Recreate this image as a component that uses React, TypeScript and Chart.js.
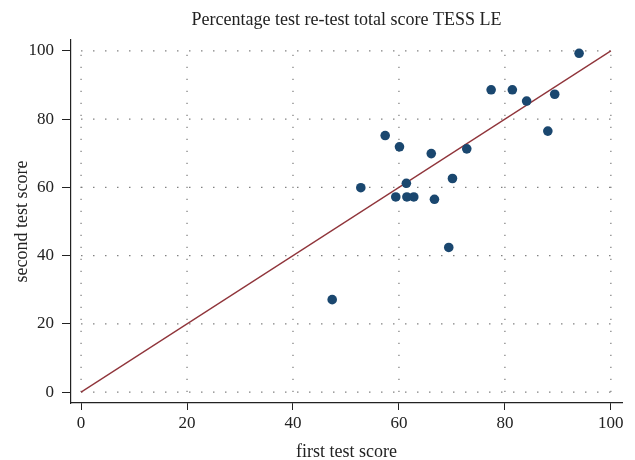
import React, { useEffect, useRef } from "react";
import { Chart, registerables } from "chart.js";

Chart.register(...registerables);

const chartTitle = "Percentage test re-test total score TESS LE";
const xAxisTitle = "first test score";
const yAxisTitle = "second test score";

const firstTest = [94.0, 77.4, 81.4, 84.1, 89.4, 88.1, 57.4, 60.1, 66.1, 72.8, 52.8, 61.4, 59.4, 61.5, 62.8, 70.1, 66.7, 69.4, 47.4];
const secondTest = [99.3, 88.6, 88.6, 85.3, 87.3, 76.5, 75.2, 71.9, 69.9, 71.3, 59.9, 61.2, 57.2, 57.2, 57.2, 62.6, 56.5, 42.4, 27.1];

const lineX = [0, 100];
const lineY = [0, 100];

const tickValues = [0, 20, 40, 60, 80, 100];

const FONT = "'Liberation Serif', 'Times New Roman', serif";
const INK = "#222222";

const dottedGrid = {
  id: "dottedGrid",
  beforeDatasetsDraw(chart: any) {
    const { ctx } = chart;
    const xs = chart.scales.x;
    const ys = chart.scales.y;
    const x0 = xs.getPixelForValue(tickValues[0]);
    const x1 = xs.getPixelForValue(tickValues[tickValues.length - 1]);
    const y0 = ys.getPixelForValue(tickValues[0]);
    const y1 = ys.getPixelForValue(tickValues[tickValues.length - 1]);
    ctx.save();
    ctx.strokeStyle = "#7a7a7a";
    ctx.lineWidth = 1.2;
    ctx.setLineDash([1.4, 10.6]);
    for (const v of tickValues) {
      const py = ys.getPixelForValue(v);
      ctx.beginPath();
      ctx.moveTo(x0, py);
      ctx.lineTo(x1, py);
      ctx.stroke();
      const px = xs.getPixelForValue(v);
      ctx.beginPath();
      ctx.moveTo(px, y0);
      ctx.lineTo(px, y1);
      ctx.stroke();
    }
    ctx.restore();
  },
};

export default function App() {
  const ref = useRef<HTMLCanvasElement | null>(null);

  useEffect(() => {
    if (!ref.current) return;
    const scatterData = firstTest.map((x, i) => ({ x, y: secondTest[i] }));
    const lineData = lineX.map((x, i) => ({ x, y: lineY[i] }));
    const setTicks = (scale: any) => {
      scale.ticks = tickValues.map((v) => ({ value: v }));
    };
    const chart = new Chart(ref.current, {
      type: "scatter",
      data: {
        datasets: [
          {
            type: "scatter",
            data: scatterData,
            backgroundColor: "#1a476f",
            borderColor: "#1a476f",
            pointRadius: 4.8,
            pointHoverRadius: 4.8,
            borderWidth: 0,
            order: 0,
          },
          {
            type: "line",
            data: lineData,
            borderColor: "#90353b",
            borderWidth: 1.3,
            pointRadius: 0,
            fill: false,
            order: 1,
          },
        ],
      },
      options: {
        animation: false,
        responsive: true,
        maintainAspectRatio: false,
        layout: { padding: { left: 0, right: 13, top: 0, bottom: 0 } },
        plugins: {
          legend: { display: false },
          tooltip: { enabled: false },
          title: {
            display: true,
            text: chartTitle,
            fullSize: false,
            color: INK,
            font: { family: FONT, size: 18, weight: "normal", lineHeight: 1.2 },
            padding: { top: 9, bottom: 9.4 },
          },
        },
        scales: {
          x: {
            type: "linear",
            min: -1.9,
            max: 102.1,
            afterBuildTicks: setTicks,
            afterFit: (scale: any) => {
              scale.height = 57;
            },
            grid: {
              drawOnChartArea: false,
              drawTicks: true,
              tickLength: 7,
              tickColor: INK,
              tickWidth: 1,
            },
            border: { display: true, color: INK, width: 1.2 },
            ticks: {
              color: INK,
              padding: 3,
              font: { family: FONT, size: 17, lineHeight: 1.2 },
              callback: (v: any) => String(v),
            },
            title: {
              display: true,
              text: xAxisTitle,
              color: INK,
              font: { family: FONT, size: 18, lineHeight: 0.9 },
              padding: { top: 0, bottom: 0 },
            },
          },
          y: {
            type: "linear",
            min: -3.2,
            max: 103.2,
            afterBuildTicks: setTicks,
            afterFit: (scale: any) => {
              scale.width = 71;
            },
            grid: {
              drawOnChartArea: false,
              drawTicks: true,
              tickLength: 9,
              tickColor: INK,
              tickWidth: 1,
            },
            border: { display: true, color: INK, width: 1.2 },
            ticks: {
              color: INK,
              padding: 8,
              font: { family: FONT, size: 17 },
              callback: (v: any) => String(v),
            },
            title: {
              display: true,
              text: yAxisTitle,
              color: INK,
              font: { family: FONT, size: 18, lineHeight: 1.2 },
              padding: { top: 11, bottom: 0 },
            },
          },
        },
      },
      plugins: [dottedGrid],
    });
    return () => chart.destroy();
  }, []);

  return (
    <div
      style={{
        position: "absolute",
        left: 0,
        top: 0,
        width: 635,
        height: 460,
        background: "#ffffff",
      }}
    >
      <canvas ref={ref} />
    </div>
  );
}
